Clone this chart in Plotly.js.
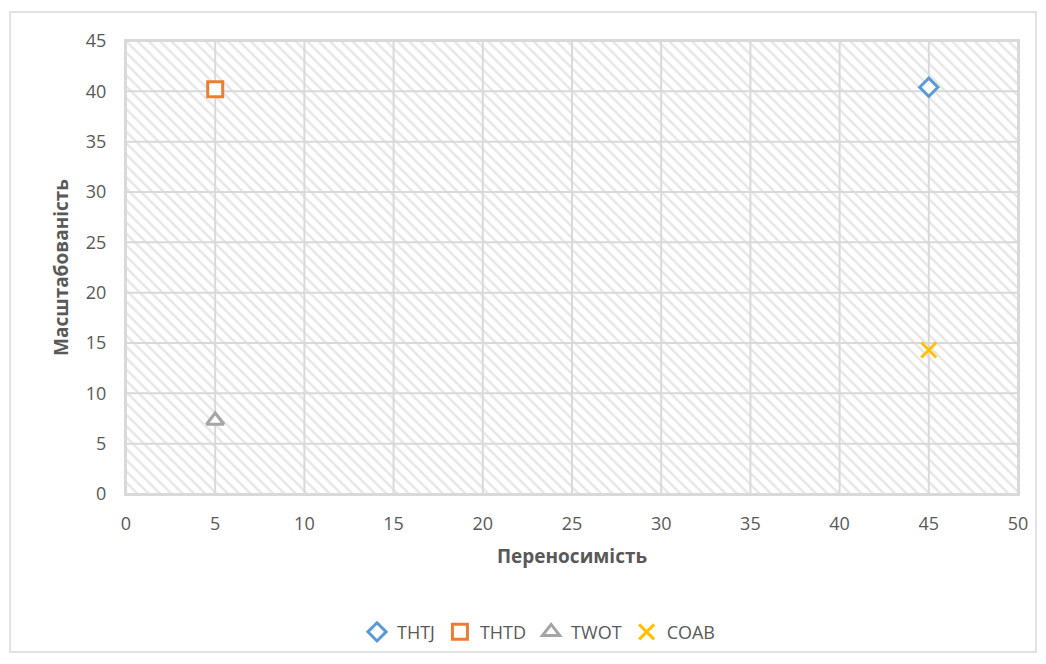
<!DOCTYPE html>
<html>
<head>
<meta charset="utf-8">
<script src="https://cdn.plot.ly/plotly-3.0.1.min.js"></script>
<style>
html,body{margin:0;padding:0;background:#fff;}
#chart{width:1046px;height:664px;}
</style>
</head>
<body>
<div id="chart"></div>
<script>
const seriesNames = ["THTJ", "THTD", "TWOT", "COAB"];
const xValues = [[45], [5], [5], [45]];
const yValues = [[40.4], [40.2], [7.3], [14.3]];
const colors = ["#5B9BD5", "#ED7D31", "#A5A5A5", "#FFC000"];
const symbols = ["diamond", "square", "triangle-up", "x-thin-open"];
const xTicks = [0, 5, 10, 15, 20, 25, 30, 35, 40, 45, 50];
const yTicks = [0, 5, 10, 15, 20, 25, 30, 35, 40, 45];
const xRange = [0, 50];
const yRange = [0, 45];

const bg = {
  x: [xRange[0], xRange[1], xRange[1], xRange[0], xRange[0]],
  y: [yRange[0], yRange[0], yRange[1], yRange[1], yRange[0]],
  mode: "lines", fill: "toself", line: {width: 0},
  fillcolor: "#ffffff",
  fillpattern: {shape: "\\", fgcolor: "#e6e6e6", bgcolor: "#ffffff", size: 8, solidity: 0.3},
  hoverinfo: "skip", showlegend: false
};

// grid lines drawn above the hatch, below markers
const gx = [], gy = [];
xTicks.forEach(t => { gx.push(t, t, null); gy.push(yRange[0], yRange[1], null); });
yTicks.forEach(t => { gx.push(xRange[0], xRange[1], null); gy.push(t, t, null); });
const grid = {x: gx, y: gy, mode: "lines", line: {color: "#d9d9d9", width: 2},
              hoverinfo: "skip", showlegend: false};

const traces = [bg, grid];
seriesNames.forEach((n, i) => {
  traces.push({
    x: xValues[i], y: yValues[i], name: n, mode: "markers", type: "scatter",
    marker: {symbol: symbols[i], color: i === 3 ? colors[i] : "#ffffff",
             size: [14, 15, 15, 15][i],
             line: {color: colors[i], width: 3}}
  });
});

const layout = {
  width: 1046, height: 664,
  margin: {l: 126, r: 28, t: 41, b: 170},
  paper_bgcolor: "#ffffff", plot_bgcolor: "#ffffff",
  font: {family: "Open Sans, Lato, sans-serif", color: "#595959", size: 18},
  showlegend: true,
  legend: {orientation: "h", x: 0.463, xanchor: "center", y: -0.305, yanchor: "middle",
           font: {size: 18, color: "#595959"}, itemwidth: 30, traceorder: "normal"},
  xaxis: {range: xRange, tickvals: xTicks, showgrid: false,
          zeroline: false, showline: true, linecolor: "#d9d9d9", linewidth: 2, mirror: true,
          ticks: "outside", ticklen: 12, tickcolor: "rgba(0,0,0,0)",
          tickfont: {size: 18, color: "#595959"},
          title: {text: "Переносимість", font: {size: 19, color: "#595959", weight: "bold"}, standoff: 16}},
  yaxis: {range: yRange, tickvals: yTicks, showgrid: false,
          zeroline: false, showline: true, linecolor: "#d9d9d9", linewidth: 2, mirror: true,
          ticks: "outside", ticklen: 14, tickcolor: "rgba(0,0,0,0)",
          tickfont: {size: 18, color: "#595959"},
          title: {text: "Масштабованість", font: {size: 19, color: "#595959", weight: "bold"}, standoff: 12}},
  shapes: [{type: "rect", xref: "paper", yref: "paper",
            x0: -0.130, x1: 1.0202, y0: -0.3488, y1: 1.064,
            line: {color: "#d9d9d9", width: 1.5}, fillcolor: "rgba(0,0,0,0)", layer: "below"}]
};

Plotly.newPlot("chart", traces, layout, {displayModeBar: false, staticPlot: true});
</script>
</body>
</html>
